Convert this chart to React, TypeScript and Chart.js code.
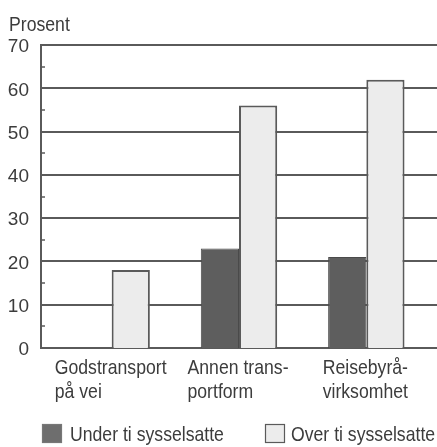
import React, { useEffect, useRef } from "react";
import { Chart, registerables } from "chart.js";

Chart.register(...registerables);

const categories: string[][] = [
  ["Godstransport", "på vei"],
  ["Annen trans-", "portform"],
  ["Reisebyrå-", "virksomhet"],
];
const underTi: (number | null)[] = [null, 23, 21];
const overTi: number[] = [18, 56, 62];
const seriesNames = ["Under ti sysselsatte", "Over ti sysselsatte"];
const yTicks = [0, 10, 20, 30, 40, 50, 60, 70];
const yTitle = "Prosent";

const FONT = "'Liberation Sans', Arial, sans-serif";
const TEXT = "#3c3c3c";
const LINE = "#5a5a5a";
const DARK = "#5e5e5e";
const LIGHT = "#ececec";
const SQUEEZE = 0.84;

function narrowText(ctx: CanvasRenderingContext2D, s: string, x: number, y: number) {
  ctx.save();
  ctx.translate(x, y);
  ctx.scale(SQUEEZE, 1);
  ctx.fillText(s, 0, 0);
  ctx.restore();
}

const decorPlugin = {
  id: "decor",
  beforeDatasetsDraw(chart: any) {
    const ctx = chart.ctx;
    const y = chart.scales.y;
    ctx.save();
    ctx.strokeStyle = LINE;
    ctx.lineWidth = 2;
    for (const v of yTicks) {
      const py = Math.round(y.getPixelForValue(v));
      ctx.beginPath();
      ctx.moveTo(40, py);
      ctx.lineTo(437, py);
      ctx.stroke();
    }
    ctx.beginPath();
    ctx.moveTo(41, y.getPixelForValue(70) - 1);
    ctx.lineTo(41, y.getPixelForValue(0) + 1);
    ctx.stroke();
    ctx.lineWidth = 1.5;
    for (let v = 5; v < 70; v += 10) {
      const py = Math.round(y.getPixelForValue(v));
      ctx.beginPath();
      ctx.moveTo(40, py);
      ctx.lineTo(45, py);
      ctx.stroke();
    }
    ctx.restore();
  },
  afterDraw(chart: any) {
    const ctx = chart.ctx;
    const x = chart.scales.x;
    const y = chart.scales.y;
    ctx.save();
    ctx.fillStyle = TEXT;
    ctx.font = `21px ${FONT}`;
    ctx.textBaseline = "alphabetic";
    ctx.textAlign = "left";
    narrowText(ctx, yTitle, 9, 31);
    const base = y.getPixelForValue(0);
    categories.forEach((lines, i) => {
      const cx = x.getPixelForValue(i);
      const w = Math.max(...lines.map((l) => ctx.measureText(l).width)) * SQUEEZE;
      const left = cx - w / 2 - 1;
      lines.forEach((l, j) => {
        narrowText(ctx, l, left, base + 26 + j * 24);
      });
    });
    const items = [
      { x: 42, color: "#6e6e6e", border: "#777777", text: seriesNames[0], tx: 70 },
      { x: 265, color: LIGHT, border: LINE, text: seriesNames[1], tx: 291 },
    ];
    for (const it of items) {
      ctx.fillStyle = it.color;
      ctx.fillRect(it.x, 424, 20, 19);
      ctx.strokeStyle = it.border;
      ctx.lineWidth = 1.2;
      ctx.strokeRect(it.x + 0.5, 424.5, 19, 18);
      ctx.fillStyle = TEXT;
      narrowText(ctx, it.text, it.tx, 441);
    }
    ctx.restore();
  },
};

export default function App() {
  const ref = useRef<HTMLCanvasElement | null>(null);
  useEffect(() => {
    if (!ref.current) return;
    const chart = new Chart(ref.current, {
      type: "bar",
      data: {
        labels: categories.map((c) => c.join(" ")),
        datasets: [
          {
            label: seriesNames[0],
            data: underTi,
            backgroundColor: DARK,
            borderColor: "#4a4a4a",
            borderWidth: 1,
          },
          {
            label: seriesNames[1],
            data: overTi,
            backgroundColor: LIGHT,
            borderColor: LINE,
            borderWidth: 2,
          },
        ],
      },
      options: {
        animation: false,
        responsive: false,
        layout: { padding: { left: 8, right: 7, top: 45, bottom: 99 } },
        datasets: { bar: { categoryPercentage: 0.6, barPercentage: 1 } },
        plugins: { legend: { display: false }, tooltip: { enabled: false } },
        scales: {
          x: {
            ticks: { display: false },
            grid: { display: false, drawTicks: false },
            border: { display: false },
            afterFit: (s: any) => { s.height = 0; },
          },
          y: {
            min: 0,
            max: 70,
            afterFit: (s: any) => { s.width = 40; },
            ticks: {
              stepSize: 10,
              padding: 19,
              labelOffset: 2,
              color: TEXT,
              font: { family: FONT, size: 19 },
            },
            grid: { display: false, drawTicks: false },
            border: { display: false },
          },
        },
      },
      plugins: [decorPlugin],
    });
    return () => chart.destroy();
  }, []);
  return (
    <div style={{ position: "absolute", left: 0, top: 0, width: 437, height: 447, background: "#fff" }}>
      <canvas ref={ref} width={437} height={447} style={{ display: "block", width: 437, height: 447 }} />
    </div>
  );
}
